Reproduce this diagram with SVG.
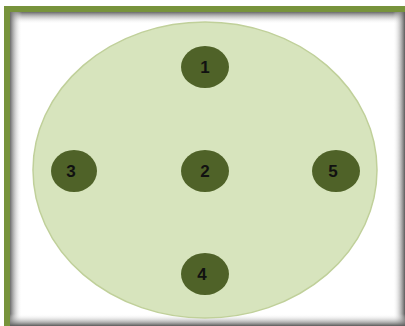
<svg xmlns="http://www.w3.org/2000/svg" width="405" height="326" viewBox="0 0 405 326">
<defs>
<linearGradient id="sT" x1="0" y1="0" x2="0" y2="1"><stop offset="0" stop-color="#6a6a6a"/><stop offset="1" stop-color="#fff" stop-opacity="0"/></linearGradient>
<linearGradient id="sL" x1="0" y1="0" x2="1" y2="0"><stop offset="0" stop-color="#6a6a6a"/><stop offset="1" stop-color="#fff" stop-opacity="0"/></linearGradient>
<linearGradient id="sR" x1="1" y1="0" x2="0" y2="0"><stop offset="0" stop-color="#5a5a5a"/><stop offset="1" stop-color="#fff" stop-opacity="0"/></linearGradient>
<linearGradient id="sB" x1="0" y1="1" x2="0" y2="0"><stop offset="0" stop-color="#5a5a5a"/><stop offset="1" stop-color="#fff" stop-opacity="0"/></linearGradient>
</defs>
<style>
.n{fill:#4f6228}
.t{font-family:"Liberation Sans",Arial,sans-serif;font-weight:bold;font-size:17px;fill:#111;text-anchor:middle}
</style>
<rect x="0" y="0" width="405" height="326" fill="#fff"/>
<rect x="10" y="12" width="395" height="314" fill="#fff"/>
<rect x="10" y="12" width="395" height="12" fill="url(#sT)"/>
<rect x="10" y="12" width="12" height="314" fill="url(#sL)"/>
<rect x="393" y="12" width="12" height="314" fill="url(#sR)"/>
<rect x="10" y="314" width="395" height="12" fill="url(#sB)"/>
<rect x="4" y="6" width="401" height="6" fill="#77933c"/>
<rect x="4" y="6" width="6" height="320" fill="#77933c"/>
<ellipse cx="205" cy="170" rx="172" ry="148" fill="#d7e4bd" stroke="#c0d09a" stroke-width="1.5"/>
<g id="node1"><ellipse class="n" cx="205" cy="67" rx="24" ry="21"/><text class="t" x="205" y="73">1</text></g>
<g id="node2"><ellipse class="n" cx="205" cy="171" rx="24" ry="21"/><text class="t" x="205" y="177">2</text></g>
<g id="node3"><ellipse class="n" cx="74" cy="171" rx="23" ry="21"/><text class="t" x="71" y="177">3</text></g>
<g id="node4"><ellipse class="n" cx="205" cy="274" rx="24" ry="21"/><text class="t" x="202" y="280">4</text></g>
<g id="node5"><ellipse class="n" cx="336" cy="171" rx="24" ry="21"/><text class="t" x="333" y="177">5</text></g>
<g id="connectors"/>
</svg>
